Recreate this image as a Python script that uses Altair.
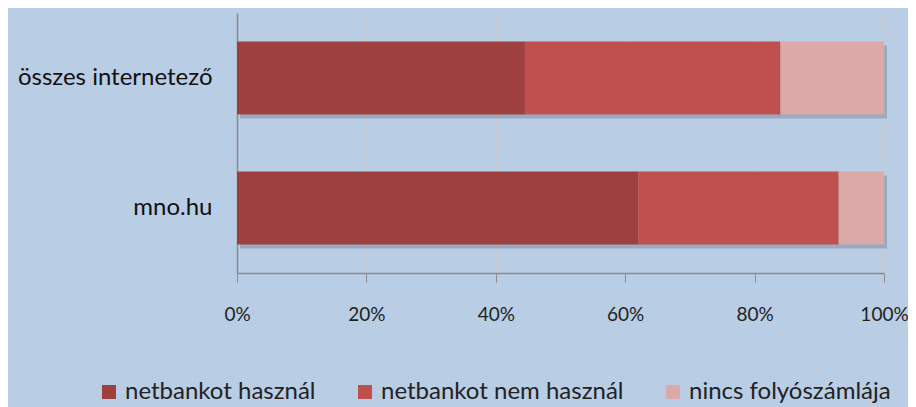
import altair as alt
import pandas as pd

categories = ["összes internetező", "mno.hu"]
series = ["netbankot használ", "netbankot nem használ", "nincs folyószámlája"]
values_osszes = [44.5, 39.5, 16.0]
values_mno = [62.0, 31.0, 7.0]
colors = ["#9E413E", "#C0504D", "#DBA9A8"]
x_ticks = [0, 20, 40, 60, 80, 100]

rows = []
for cat, vals in zip(categories, [values_osszes, values_mno]):
    for i, (s, v) in enumerate(zip(series, vals)):
        rows.append({"category": cat, "series": s, "value": v, "order": i})
df = pd.DataFrame(rows)

FONT = "Lato"

y_enc = alt.Y(
    "category:N",
    sort=categories,
    scale=alt.Scale(paddingInner=0.44, paddingOuter=0.22),
    axis=alt.Axis(
        title=None, ticks=False, labelFontSize=24, labelColor="#111111",
        labelPadding=25, labelFont=FONT, domainColor="#8C8C8C", domainWidth=1.5,
        labelLimit=300,
    ),
)
x_enc = alt.X(
    "value:Q",
    stack="zero",
    scale=alt.Scale(domain=[0, 100], nice=False),
    axis=alt.Axis(
        title=None, values=x_ticks, labelExpr="datum.value + '%'",
        labelFontSize=19, labelColor="#222222", labelFont=FONT,
        labelFlush=False, labelOverlap=False,
        tickSize=9, tickColor="#8C8C8C", domainColor="#8C8C8C", domainWidth=1.5,
        labelPadding=23, grid=True, gridColor="#C9CCD1", gridWidth=1,
    ),
)

shadow = alt.Chart(df).mark_bar(
    color="#5A6A80", opacity=0.35, xOffset=3, yOffset=4
).encode(x=x_enc, y=y_enc, order="order:Q")

bars = alt.Chart(df).mark_bar().encode(
    x=x_enc,
    y=y_enc,
    order="order:Q",
    color=alt.Color(
        "series:N",
        scale=alt.Scale(domain=series, range=colors),
        sort=series,
        legend=alt.Legend(
            title=None, orient="none", direction="horizontal",
            legendX=-140, legendY=367, symbolType="square", symbolSize=196,
            symbolStrokeWidth=0, labelFontSize=24, labelFont=FONT,
            labelColor="#222222", columnPadding=37, labelOffset=4,
            labelLimit=400,
        ),
    ),
)

chart = (
    alt.layer(shadow, bars)
    .properties(
        width=647, height=260, background="#B9CDE5",
        autosize=alt.AutoSizeParams(type="none"),
        padding={"left": 229, "top": 5, "right": 24, "bottom": 134},
    )
    .configure_view(strokeWidth=0)
)

chart.save("out.html", embed_options={"renderer": "svg", "actions": False})
